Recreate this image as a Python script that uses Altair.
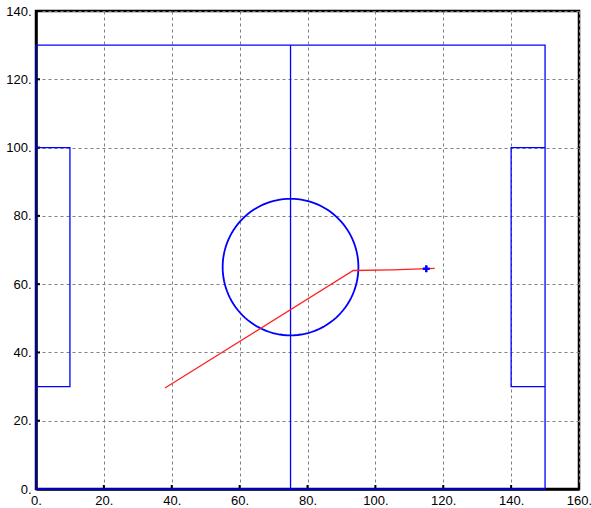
import math
import altair as alt
import pandas as pd

# Pitch outline (field units)
outer_x = [0, 0, 150, 150, 0]
outer_y = [0, 130, 130, 0, 0]
half_x = [75, 75]
half_y = [0, 130]
left_box_x = [0, 10, 10, 0]
left_box_y = [30, 30, 100, 100]
right_box_x = [150, 140, 140, 150]
right_box_y = [30, 30, 100, 100]

# Centre circle
circle_center = (75, 65)
circle_radius = 20
circle_steps = 120

# Ball path and current position
path_x = [38, 93.5, 105, 117.5]
path_y = [29.6, 64.0, 64.2, 64.6]
ball_x = [115]
ball_y = [64.5]

# Axis ticks
x_ticks = [0, 20, 40, 60, 80, 100, 120, 140, 160]
y_ticks = [0, 20, 40, 60, 80, 100, 120, 140]

W, H = 543, 478

rows = []
for name, xs, ys in [("outer", outer_x, outer_y), ("half", half_x, half_y),
                     ("left", left_box_x, left_box_y), ("right", right_box_x, right_box_y)]:
    for i, (a, b) in enumerate(zip(xs, ys)):
        rows.append({"g": name, "o": i, "x": a, "y": b})
lines_df = pd.DataFrame(rows)

circ = pd.DataFrame([
    {"o": k,
     "x": circle_center[0] + circle_radius * math.cos(2 * math.pi * k / circle_steps),
     "y": circle_center[1] + circle_radius * math.sin(2 * math.pi * k / circle_steps)}
    for k in range(circle_steps + 1)
])
path_df = pd.DataFrame({"x": path_x, "y": path_y, "o": list(range(len(path_x)))})
ball_df = pd.DataFrame({"x": ball_x, "y": ball_y})

xs = alt.Scale(domain=[0, 160], nice=False, zero=False)
ys = alt.Scale(domain=[0, 140], nice=False, zero=False)

axis_common = dict(
    grid=True, gridColor="#808080", gridDash=[3, 3], gridWidth=1,
    domainColor="black", domainWidth=2.5, ticks=False,
    labelFont="Liberation Sans", labelFontSize=13, labelColor="black",
    labelPadding=5, labelFlush=False, labelOverlap=False, labelBound=False,
    labelExpr="datum.value + '.'", title=None,
)
x_axis = alt.Axis(values=x_ticks, labelAngle=0, **axis_common)
y_axis = alt.Axis(values=y_ticks, **axis_common)

base_x = alt.X("x:Q", scale=xs, axis=x_axis)
base_y = alt.Y("y:Q", scale=ys, axis=y_axis)

field = alt.Chart(lines_df).mark_line(color="#0000ff", strokeWidth=1.3).encode(
    x=base_x, y=base_y, detail="g:N", order="o:Q"
)
circle = alt.Chart(circ).mark_line(color="#0000ff", strokeWidth=1.8).encode(
    x=alt.X("x:Q", scale=xs), y=alt.Y("y:Q", scale=ys), order="o:Q"
)
path = alt.Chart(path_df).mark_line(color="#ff2020", strokeWidth=1.3).encode(
    x=alt.X("x:Q", scale=xs), y=alt.Y("y:Q", scale=ys), order="o:Q"
)
ball = alt.Chart(ball_df).mark_point(
    shape="M-1,0L1,0M0,-1L0,1", size=49, color="#0000ff", strokeWidth=2.5, filled=False,
    opacity=1
).encode(x=alt.X("x:Q", scale=xs), y=alt.Y("y:Q", scale=ys))

xt = alt.Chart(pd.DataFrame({"x": x_ticks})).mark_rule(color="black", strokeWidth=2).encode(
    x=alt.X("x:Q", scale=xs), y=alt.value(H), y2=alt.value(H - 4)
)
yt = alt.Chart(pd.DataFrame({"y": y_ticks})).mark_rule(color="black", strokeWidth=2).encode(
    y=alt.Y("y:Q", scale=ys), x=alt.value(0), x2=alt.value(4)
)

chart = alt.layer(xt, yt, field, circle, path, ball).properties(
    width=W, height=H,
    padding={"left": 36, "top": 11, "right": 12, "bottom": 19},
    autosize=alt.AutoSizeParams(type="none"),
    background="white",
).configure_view(stroke="black", strokeWidth=2.5)

chart.save("out.html", embed_options={"renderer": "svg", "actions": False})
